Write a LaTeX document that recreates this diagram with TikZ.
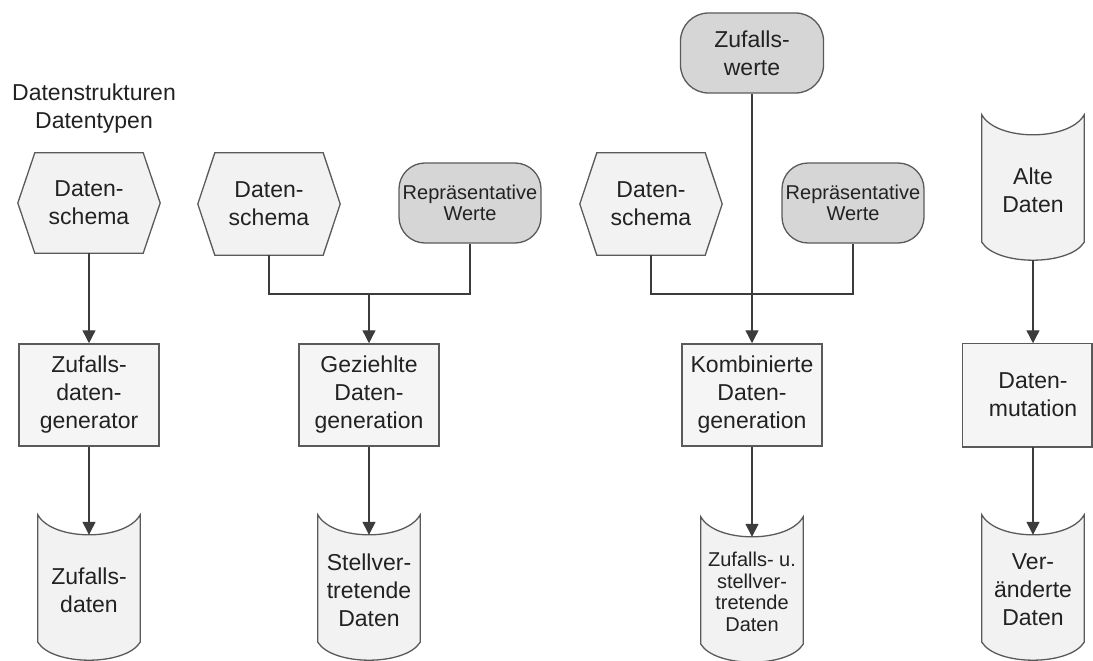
\documentclass[tikz,border=0pt]{standalone}
\usepackage{fontspec}
\setmainfont{Liberation Sans}
\usetikzlibrary{arrows.meta,calc,backgrounds}

\definecolor{edge}{HTML}{5A5A5A}
\definecolor{wire}{HTML}{3C3C3C}
\definecolor{paleFill}{HTML}{F2F2F2}
\definecolor{boxFill}{HTML}{F5F5F5}
\definecolor{greyFill}{HTML}{D6D6D6}
\definecolor{ink}{HTML}{222222}

\tikzset{
  base/.style={inner sep=0pt, text=ink, align=center, font=\fontsize{23}{28}\selectfont},
  smalltext/.style={font=\fontsize{20}{21.5}\selectfont},
  hexnode/.style={base, minimum width=142pt, minimum height=102pt},
  procbox/.style={base, draw=edge, line width=1.5pt, fill=boxFill, minimum width=140pt, minimum height=102pt},
  roundval/.style={base, draw=edge, line width=1.3pt, fill=greyFill, rounded corners=26pt, minimum width=142pt, minimum height=80pt},
  storenode/.style={base, minimum width=102pt, minimum height=110pt},
  outline/.style={draw=edge, line width=1.3pt, fill=paleFill},
  wireline/.style={draw=wire, line width=1.4pt},
  flow/.style={wireline, -{Triangle[width=13pt,length=13pt]}},
}

% hexagon (data schema) around a node
\newcommand\hexoutline[1]{%
  \path[outline] (#1.west) -- ($(#1.north west)+(17,0)$) -- ($(#1.north east)+(-17,0)$)
    -- (#1.east) -- ($(#1.south east)+(-17,0)$) -- ($(#1.south west)+(17,0)$) -- cycle;}
% data store: concave top, rounded bottom; the node's north is the dip of the top
\newcommand\storeoutline[1]{%
  \path[outline] ($(#1.north west)+(0,-20)$)
    .. controls ($(#1.north west)+(15,6.7)$) and ($(#1.north east)+(-15,6.7)$) .. ($(#1.north east)+(0,-20)$)
    -- ($(#1.south east)+(0,-3)$)
    .. controls ($(#1.south east)+(-15,21)$) and ($(#1.south west)+(15,21)$) .. ($(#1.south west)+(0,-3)$)
    -- cycle;}

\begin{document}
\begin{tikzpicture}[x=1pt,y=-1pt]
\useasboundingbox (0,0) rectangle (1093,661);

% column 1: random data
\node[base] (title) at (94,109) {Datenstrukturen\\Datentypen};
\node[hexnode, minimum height=100pt] (hexA) at (89,203) {Daten-\\schema};
\node[procbox] (boxA) at (89,395) {Zufalls-\\daten-\\generator};
\node[storenode] (cylA) at (89,590) {Zufalls-\\daten};

% column 2: targeted data
\node[hexnode] (hexB) at (269,204) {Daten-\\schema};
\node[roundval, smalltext] (repB) at (470,203) {Repräsentative\\Werte};
\coordinate (jB) at (369,294);
\node[procbox] (boxB) at (369,395) {Geziehlte\\Daten-\\generation};
\node[storenode] (cylB) at (369,590) {Stellver-\\tretende\\Daten};

% column 3: combined data
\node[roundval, minimum width=143pt, rounded corners=28pt] (zw) at (752,53) {Zufalls-\\werte};
\node[hexnode] (hexC) at (651,204) {Daten-\\schema};
\node[roundval, smalltext] (repC) at (853,203) {Repräsentative\\Werte};
\coordinate (jC) at (752,294);
\node[procbox] (boxC) at (752,395) {Kombinierte\\Daten-\\generation};
\node[storenode, smalltext] (cylC) at (752,592) {Zufalls- u.\\stellver-\\tretende\\Daten};

% column 4: mutated data
\node[storenode] (alt) at (1033,190) {Alte\\Daten};
\node[procbox, draw=none, fill=none] (boxD) at (1033,395) {Daten-\\mutation};
\node[storenode] (cylD) at (1033,590) {Ver-\\änderte\\Daten};

\begin{pgfonlayer}{background}
  \hexoutline{hexA}
  \hexoutline{hexB}
  \hexoutline{hexC}
  \storeoutline{cylA}
  \storeoutline{cylB}
  \storeoutline{cylC}
  \storeoutline{alt}
  \storeoutline{cylD}
  \path[draw=edge, line width=1.5pt, fill=boxFill] (boxD.north west) rectangle ($(boxD.south east)+(-12,0)$);
\end{pgfonlayer}

% connectors
\draw[flow] (hexA.south) -- (boxA.north);
\draw[flow] (boxA.south) -- (cylA.north);

\draw[wireline] (hexB.south) |- (jB) -| (repB.south);
\draw[flow] (jB) -- (boxB.north);
\draw[flow] (boxB.south) -- (cylB.north);

\draw[wireline] (hexC.south) |- (jC) -| (repC.south);
\draw[flow] (zw.south) -- (boxC.north);
\draw[flow] (boxC.south) -- (cylC.north);

\coordinate (altEnd) at ($(alt.south)+(0,15)$);
\draw[flow] (altEnd) -- (boxD.north);
\draw[flow] (boxD.south) -- (cylD.north);
\end{tikzpicture}
\end{document}
